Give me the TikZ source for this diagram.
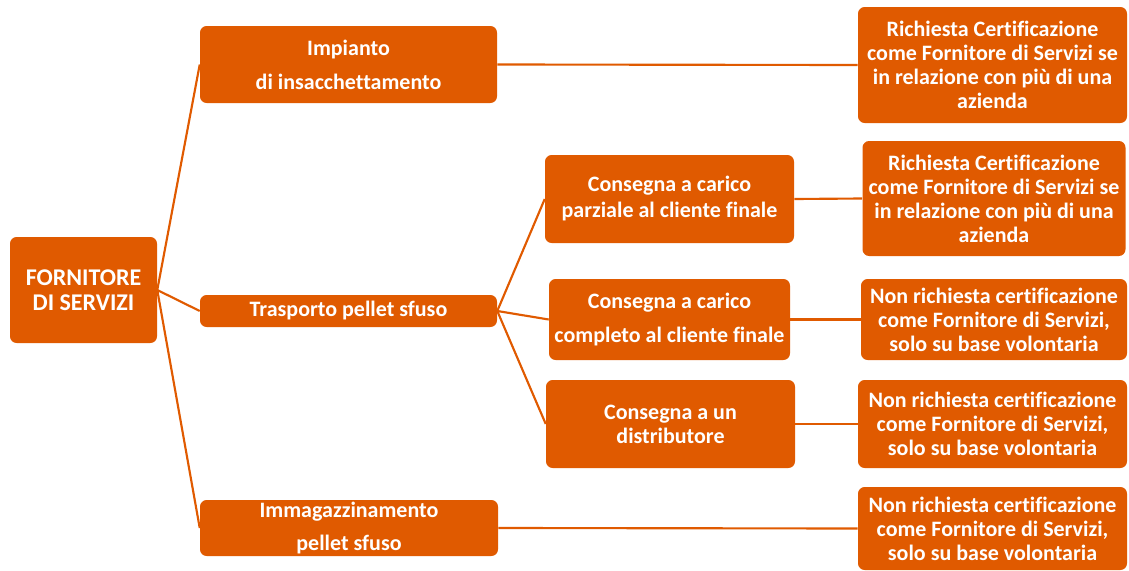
\documentclass[tikz,border=0pt]{standalone}
\usepackage{fontspec}
\setmainfont{Carlito}[Ligatures=NoCommon]
\definecolor{fornorange}{RGB}{224,90,0}
\tikzset{
  box/.style = {fill=fornorange, rounded corners=5pt, text=white, align=center,
                inner sep=0pt, font=\bfseries\fontsize{16.5}{18}\selectfont},
  link/.style = {draw=fornorange, line width=1.6pt}
}
\begin{document}
\begin{tikzpicture}[x=0.75pt,y=-0.75pt]
  \useasboundingbox (0,0) rectangle (1129,571);
  % radice
  \node[box, minimum width=110.25pt, minimum height=79.5pt,
        font=\bfseries\fontsize{18}{18.75}\selectfont] (root) at (83.5,290) {FORNITORE\\DI SERVIZI};
  % attivita
  \node[box, minimum width=222.75pt, minimum height=57.75pt] (imp) at (348.5,64.5) {Impianto\\[7.5pt]di insacchettamento};
  \node[box, minimum width=222.75pt, minimum height=24pt] (tra) at (348.5,311) {Trasporto pellet sfuso};
  \node[box, minimum width=223.5pt, minimum height=42pt] (imm) at (349,528) {Immagazzinamento\\[7pt]pellet sfuso};
  % consegne
  \node[box, minimum width=186.75pt, minimum height=66pt] (cp) at (669.5,199) {Consegna a carico\\[1.5pt]parziale al cliente finale};
  \node[box, minimum width=180.75pt, minimum height=60.75pt] (cc) at (669.5,319.5) {Consegna a carico\\[7.5pt]completo al cliente finale};
  \node[box, minimum width=186.75pt, minimum height=66pt] (cd) at (670.5,424) {Consegna a un\\distributore};
  % certificazione
  \node[box, minimum width=201.75pt, minimum height=87pt] (r1) at (992.5,65) {Richiesta Certificazione\\come Fornitore di Servizi se\\in relazione con più di una\\azienda};
  \node[box, minimum width=197.25pt, minimum height=86.25pt] (r2) at (994,198.5) {Richiesta Certificazione\\come Fornitore di Servizi se\\in relazione con più di una\\azienda};
  \node[box, minimum width=199.5pt, minimum height=60.75pt] (r3) at (994,319.5) {Non richiesta certificazione\\come Fornitore di Servizi,\\solo su base volontaria};
  \node[box, minimum width=201.75pt, minimum height=66pt] (r4) at (992.5,424) {Non richiesta certificazione\\come Fornitore di Servizi,\\solo su base volontaria};
  \node[box, minimum width=201.75pt, minimum height=62.25pt] (r5) at (992.5,528.5) {Non richiesta certificazione\\come Fornitore di Servizi,\\solo su base volontaria};
  % collegamenti
  \draw[link] (root.east) -- (imp.west)
              (root.east) -- (tra.west)
              (root.east) -- (imm.west);
  \draw[link] (tra.east) -- (cp.west)
              (tra.east) -- (cc.west)
              (tra.east) -- (cd.west);
  \draw[link] (imp.east) -- (r1.west);
  \draw[link] (cp.east) -- (r2.west);
  \draw[link] (cc.east) -- (r3.west);
  \draw[link] (cd.east) -- (r4.west);
  \draw[link] (imm.east) -- (r5.west);
\end{tikzpicture}
\end{document}
